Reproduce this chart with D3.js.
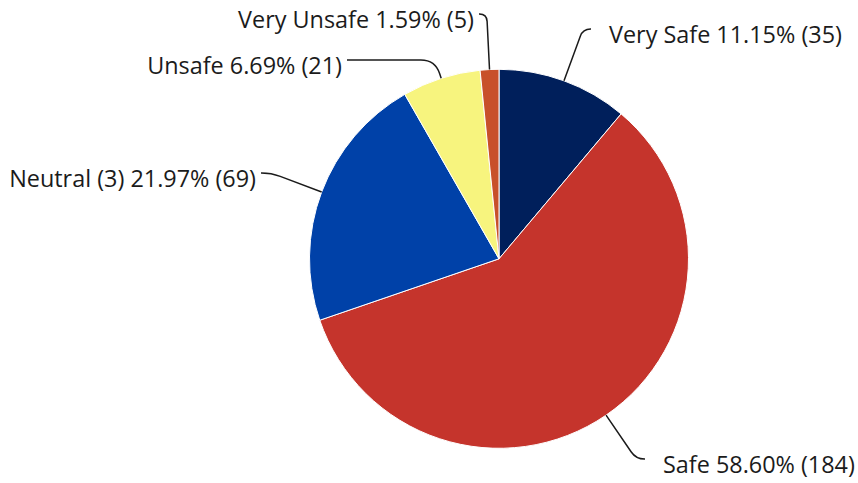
<!DOCTYPE html>
<html>
<head>
<meta charset="utf-8">
<script src="https://cdn.jsdelivr.net/npm/d3@7"></script>
<style>
  html, body { margin: 0; padding: 0; background: #fff; }
  svg { display: block; }
</style>
</head>
<body>
<svg id="chart" width="858" height="483"></svg>
<script>
// ---- data ----
const categories = ["Very Safe", "Safe", "Neutral (3)", "Unsafe", "Very Unsafe"];
const counts = [35, 184, 69, 21, 5];
const colors = ["#001f5b", "#c5342c", "#0041a8", "#f7f47e", "#c8502a"];

// ---- layout (label placement only) ----
const labelLayout = [
  { x: 609, y: 43,  anchor: "start" },
  { x: 663, y: 473, anchor: "start" },
  { x: 256, y: 187, anchor: "end" },
  { x: 342, y: 74,  anchor: "end" },
  { x: 474, y: 28,  anchor: "end" }
];

const W = 858, H = 483;
const cx = 499, cy = 258.8, R = 189.5;

const svg = d3.select("#chart");
const total = d3.sum(counts);
const data = categories.map((c, i) => ({ name: c, value: counts[i], color: colors[i], layout: labelLayout[i] }));

const pie = d3.pie().value(d => d.value).sort(null);
const arcs = pie(data);
const arc = d3.arc().innerRadius(0).outerRadius(R);

const g = svg.append("g").attr("transform", `translate(${cx},${cy})`);

g.selectAll("path.slice")
  .data(arcs)
  .join("path")
  .attr("class", "slice")
  .attr("d", arc)
  .attr("fill", d => d.data.color)
  .attr("stroke", "#ffffff")
  .attr("stroke-width", 1)
  .attr("stroke-linejoin", "round");

// connectors
function connectorPath(d) {
  const a = (d.startAngle + d.endAngle) / 2;
  const dx = Math.sin(a), dy = -Math.cos(a);
  const P = [cx + R * dx, cy + R * dy];
  const L = d.data.layout;
  const right = L.anchor === "start";
  const E = [right ? L.x - 18 : L.x + 5, L.y - 14];
  const t = (E[1] - P[1]) / dy;
  const Q = [P[0] + t * dx, E[1]];
  const lenPQ = Math.hypot(Q[0] - P[0], Q[1] - P[1]);
  const lenQE = Math.abs(E[0] - Q[0]);
  const rad = Math.min(28, lenPQ * 0.75, lenQE * 0.95);
  const A = [Q[0] - (Q[0] - P[0]) / lenPQ * rad, Q[1] - (Q[1] - P[1]) / lenPQ * rad];
  const sgn = Math.sign(E[0] - Q[0]) || 1;
  const B = [Q[0] + sgn * rad, Q[1]];
  const p = d3.path();
  p.moveTo(P[0], P[1]);
  p.lineTo(A[0], A[1]);
  p.quadraticCurveTo(Q[0], Q[1], B[0], B[1]);
  p.lineTo(E[0], E[1]);
  return p.toString();
}

svg.selectAll("path.connector")
  .data(arcs)
  .join("path")
  .attr("class", "connector")
  .attr("d", connectorPath)
  .attr("fill", "none")
  .attr("stroke", "#1b1b1b")
  .attr("stroke-width", 1.5);

svg.selectAll("text.label")
  .data(arcs)
  .join("text")
  .attr("class", "label")
  .attr("x", d => d.data.layout.x)
  .attr("y", d => d.data.layout.y)
  .attr("text-anchor", d => d.data.layout.anchor)
  .attr("font-family", "'Open Sans', 'Noto Sans', sans-serif")
  .attr("font-size", 23.4)
  .attr("fill", "#1b1b1b")
  .text(d => `${d.data.name} ${(d.data.value / total * 100).toFixed(2)}% (${d.data.value})`);
</script>
</body>
</html>
